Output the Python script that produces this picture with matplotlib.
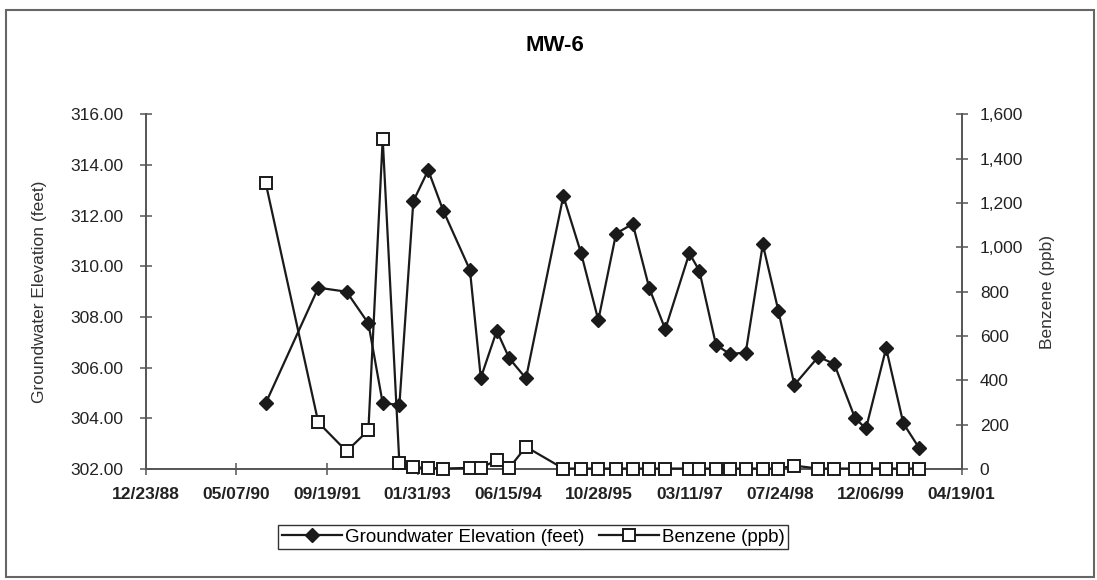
import pandas as pd
import matplotlib
matplotlib.use("Agg")
import matplotlib.pyplot as plt
from matplotlib.patches import Rectangle
from matplotlib.ticker import FuncFormatter

plt.rcParams['font.family'] = ['Liberation Sans', 'DejaVu Sans']

# sampling dates
datumi = ['1990-10-16', '1991-08-02', '1992-01-05', '1992-05-04', '1992-07-22',
          '1992-10-22', '1993-01-07', '1993-03-30', '1993-06-21', '1993-11-15',
          '1994-01-14', '1994-04-12', '1994-06-20', '1994-09-20', '1995-04-14',
          '1995-07-21', '1995-10-24', '1996-01-30', '1996-05-01', '1996-07-31',
          '1996-10-27', '1997-03-09', '1997-05-03', '1997-08-03', '1997-10-19',
          '1998-01-14', '1998-04-18', '1998-07-13', '1998-10-09', '1999-02-18',
          '1999-05-17', '1999-09-09', '1999-11-08', '2000-02-27', '2000-06-01',
          '2000-08-28']

gw_elev = [304.60, 309.16, 309.00, 307.75, 304.60, 304.53, 312.58, 313.80, 312.20,
           309.86, 305.60, 307.46, 306.37, 305.58, 312.78, 310.52, 307.88, 311.30,
           311.68, 309.14, 307.52, 310.52, 309.83, 306.90, 306.54, 306.60, 310.87,
           308.25, 305.32, 306.43, 306.15, 304.00, 303.60, 306.77, 303.80, 302.82]

benzen = [1290, 210, 80, 175, 1490, 25, 8, 5, 2, 5, 5, 40, 5, 100, 2, 2, 2, 2,
          2, 2, 2, 2, 2, 2, 2, 2, 2, 2, 15, 2, 2, 2, 2, 2, 2, 2]

x_ticks = ['12/23/88', '05/07/90', '09/19/91', '01/31/93', '06/15/94',
           '10/28/95', '03/11/97', '07/24/98', '12/06/99', '04/19/01']

dates = pd.to_datetime(datumi)
tick_dates = pd.to_datetime(x_ticks, format='%m/%d/%y')

fig = plt.figure(figsize=(10.97, 5.80), dpi=100)
ax = fig.add_axes([0.1328, 0.1914, 0.7439, 0.6112])
ax2 = ax.twinx()

axis_col = '#555555'
line_col = '#1a1a1a'

l1, = ax.plot(dates, gw_elev, color=line_col, lw=1.6, marker='D', ms=7.5,
              mfc=line_col, mec=line_col, label='Groundwater Elevation (feet)', zorder=3)
l2, = ax2.plot(dates, benzen, color=line_col, lw=1.6, marker='s', ms=9,
               mfc='white', mec=line_col, mew=1.4, label='Benzene (ppb)', zorder=3,
               clip_on=False)

ax.set_xlim(tick_dates[0], tick_dates[-1])
ax.set_ylim(302, 316)
ax2.set_ylim(0, 1600)

ax.set_xticks(tick_dates)
ax.set_xticklabels(x_ticks)
ax.set_yticks(range(302, 317, 2))
ax.yaxis.set_major_formatter(FuncFormatter(lambda v, p: f'{v:.2f}'))
ax2.set_yticks(range(0, 1601, 200))
ax2.yaxis.set_major_formatter(FuncFormatter(lambda v, p: f'{int(v):,}'))

for a in (ax, ax2):
    a.spines['top'].set_visible(False)
    for s in a.spines.values():
        s.set_color(axis_col)
        s.set_linewidth(1.2)
    a.set_facecolor('none')

ax.tick_params(axis='both', direction='inout', length=8, width=1.1, color=axis_col,
               labelsize=12.5, labelcolor='#222222')
ax.tick_params(axis='x', pad=9)
ax.tick_params(axis='y', pad=12)
ax2.tick_params(axis='y', direction='inout', length=8, width=1.1, color=axis_col,
                labelsize=12.5, labelcolor='#222222', pad=9)
for t in ax.get_xticklabels():
    t.set_fontweight('bold')

ax.set_ylabel('Groundwater Elevation (feet)', fontsize=12.5, color='#333333')
ax.yaxis.set_label_coords(-0.121, 0.5)
ax2.set_ylabel('Benzene (ppb)', fontsize=12.5, color='#333333', rotation=90)
ax2.yaxis.set_label_coords(1.096, 0.5)

fig.text(0.506, 0.922, 'MW-6', fontsize=16, fontweight='bold', ha='center', va='center')

leg = fig.legend(handles=[l1, l2], loc='center', bbox_to_anchor=(0.486, 0.074),
                 ncol=2, frameon=True, fancybox=False, edgecolor='black',
                 fontsize=13.5, handlelength=3.2, handletextpad=0.15,
                 columnspacing=0.8, borderpad=0.2, borderaxespad=0)
leg.get_frame().set_linewidth(1.0)

# chart border
fig.patches.append(Rectangle((6 / 1097, 3 / 580), 1088 / 1097, 567 / 580,
                             transform=fig.transFigure, fill=False,
                             edgecolor='#666666', lw=1.5))

fig.savefig('out.png', dpi=100)
